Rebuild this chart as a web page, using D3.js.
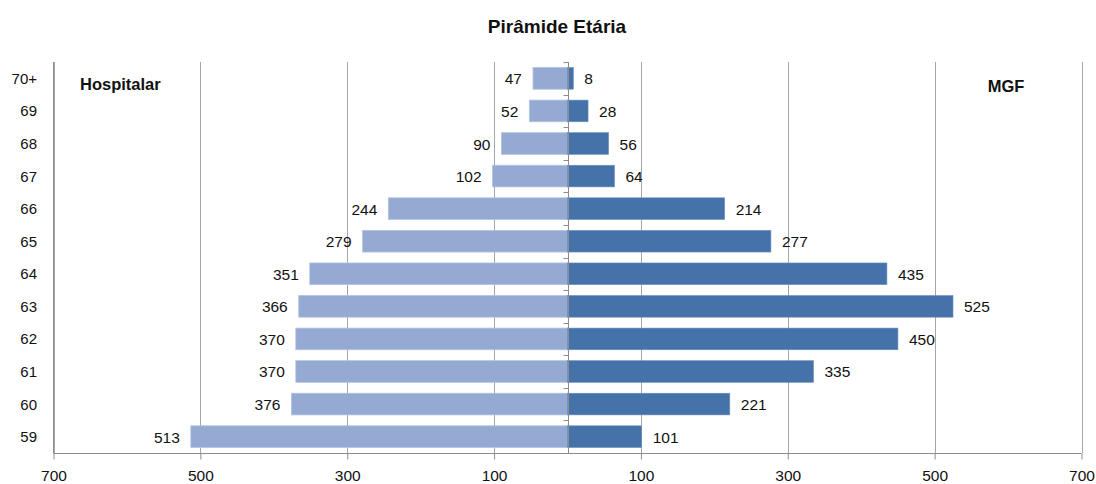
<!DOCTYPE html>
<html><head><meta charset="utf-8">
<script src="https://cdn.jsdelivr.net/npm/d3@7"></script>
<style>body{margin:0;background:#fff}svg{display:block}text{font-family:"Liberation Sans",Arial,sans-serif;fill:#111}</style>
</head><body><svg id="c" width="1096" height="484"></svg>
<script>
const categories = ["70+","69","68","67","66","65","64","63","62","61","60","59"];
const hospitalar = [47,52,90,102,244,279,351,366,370,370,376,513];
const mgf = [8,28,56,64,214,277,435,525,450,335,221,101];
const tickValues = [-700,-500,-300,-100,100,300,500,700];
const title = "Pirâmide Etária";
const leftLabel = "Hospitalar", rightLabel = "MGF";

const svg = d3.select("#c");
const x = d3.scaleLinear().domain([-700,700]).range([53.5,1081.5]);
const y = d3.scaleBand().domain(categories).range([62,453]).paddingInner(0.335).paddingOuter(0.17);
const plotTop = 62, plotBottom = 453;

// gridlines
svg.append("g").selectAll("line").data(tickValues).join("line")
  .attr("x1",d=>Math.round(x(d))+0.5).attr("x2",d=>Math.round(x(d))+0.5)
  .attr("y1",plotTop).attr("y2",plotBottom).attr("stroke","#a6a6a6").attr("stroke-width",1);

// bars
svg.append("g").selectAll("rect").data(categories).join("rect")
  .attr("x",(d,i)=>x(-hospitalar[i])).attr("width",(d,i)=>x(0)-x(-hospitalar[i]))
  .attr("y",d=>y(d)).attr("height",y.bandwidth())
  .attr("fill","#95aad3").attr("stroke","#b3c3e2").attr("stroke-width",0.8);
svg.append("g").selectAll("rect").data(categories).join("rect")
  .attr("x",x(0)).attr("width",(d,i)=>x(mgf[i])-x(0))
  .attr("y",d=>y(d)).attr("height",y.bandwidth())
  .attr("fill","#4573a9").attr("stroke","#6a8fbf").attr("stroke-width",0.6);

// value labels
svg.append("g").selectAll("text").data(categories).join("text")
  .attr("x",(d,i)=>x(-hospitalar[i])-11).attr("y",d=>y(d)+y.bandwidth()/2+6)
  .attr("text-anchor","end").attr("font-size",15.5).text((d,i)=>hospitalar[i]);
svg.append("g").selectAll("text").data(categories).join("text")
  .attr("x",(d,i)=>x(mgf[i])+11).attr("y",d=>y(d)+y.bandwidth()/2+6)
  .attr("text-anchor","start").attr("font-size",15.5).text((d,i)=>mgf[i]);

// center category axis
const cx = Math.round(x(0))+0.5;
svg.append("line").attr("x1",cx).attr("x2",cx).attr("y1",plotTop).attr("y2",plotBottom).attr("stroke","#8c8c8c");
svg.append("g").selectAll("line").data(d3.range(categories.length+1)).join("line")
  .attr("x1",cx-5).attr("x2",cx).attr("y1",i=>Math.round(plotTop+i*(plotBottom-plotTop)/categories.length)+0.5)
  .attr("y2",i=>Math.round(plotTop+i*(plotBottom-plotTop)/categories.length)+0.5).attr("stroke","#8c8c8c");

// category labels
svg.append("g").selectAll("text").data(categories).join("text")
  .attr("x",37).attr("y",d=>y(d)+y.bandwidth()/2+5.5).attr("text-anchor","end")
  .attr("font-size",15).text(d=>d);

// bottom axis
const xa = d3.axisBottom(x).tickValues(tickValues).tickSize(6).tickFormat(d=>Math.abs(d));
const ga = svg.append("g").attr("transform",`translate(0,${plotBottom+0.5})`).call(xa);
ga.select(".domain").attr("stroke","#8c8c8c").attr("d",`M${x(-700)},0H${x(700)}`);
ga.selectAll(".tick line").attr("stroke","#8c8c8c");
ga.selectAll(".tick text").attr("font-size",15.5).attr("dy","0").attr("y",27.5).attr("fill","#111")
  .attr("font-family","Liberation Sans, Arial, sans-serif");

// left edge axis
svg.append("line").attr("x1",53.5).attr("x2",53.5).attr("y1",plotTop).attr("y2",plotBottom).attr("stroke","#8c8c8c");

// texts
svg.append("text").attr("x",557).attr("y",33).attr("text-anchor","middle").attr("font-size",19)
  .attr("font-weight","bold").text(title);
svg.append("text").attr("x",80).attr("y",90).attr("font-size",16.5).attr("font-weight","bold").text(leftLabel);
svg.append("text").attr("x",1006).attr("y",92).attr("text-anchor","middle").attr("font-size",16.5).attr("font-weight","bold").text(rightLabel);
</script></body></html>
